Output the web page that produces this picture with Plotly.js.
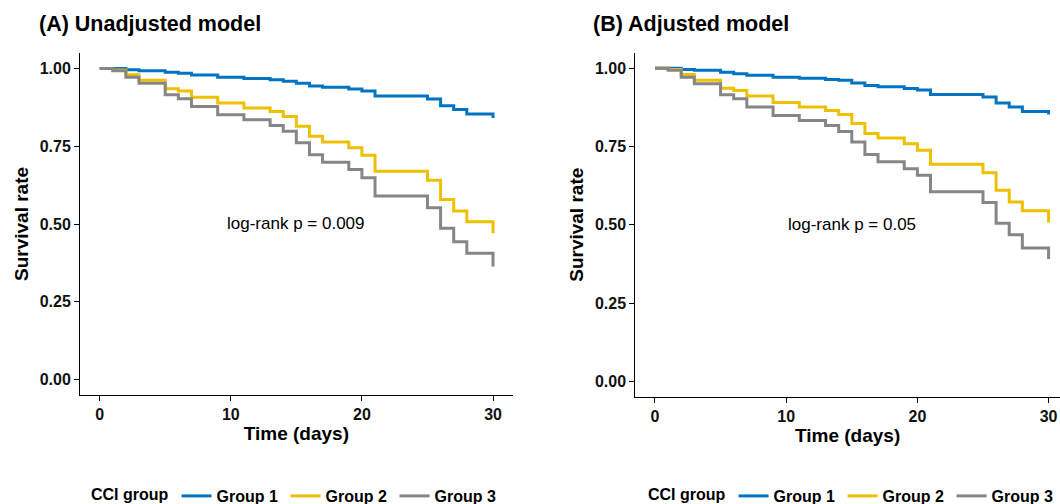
<!DOCTYPE html>
<html>
<head>
<meta charset="utf-8">
<script src="https://cdn.plot.ly/plotly-3.0.1.min.js"></script>
<style>html,body{margin:0;padding:0;background:#fff;}#chart{width:1060px;height:504px;}</style>
</head>
<body>
<div id="chart"></div>
<script>
// ---- data ----
const days = [0, 1, 2, 3, 5, 6, 7, 9, 11, 13, 14, 15, 16, 17, 19, 20, 21, 25, 26, 27, 28, 30];
const groupNames = ["Group 1", "Group 2", "Group 3"];
const groupColors = ["#0073C2", "#EFC000", "#868686"];

// (A) Unadjusted model
const unadjG1 = [1.000, 1.000, 0.996, 0.993, 0.988, 0.985, 0.979, 0.972, 0.968, 0.964, 0.959, 0.953, 0.944, 0.940, 0.934, 0.928, 0.912, 0.902, 0.880, 0.868, 0.854, 0.841];
const unadjG2 = [1.000, 0.995, 0.980, 0.962, 0.935, 0.928, 0.908, 0.889, 0.873, 0.862, 0.846, 0.814, 0.782, 0.764, 0.745, 0.721, 0.670, 0.641, 0.579, 0.542, 0.507, 0.470];
const unadjG3 = [1.000, 0.993, 0.972, 0.953, 0.916, 0.903, 0.878, 0.851, 0.835, 0.817, 0.798, 0.761, 0.723, 0.699, 0.675, 0.649, 0.590, 0.552, 0.486, 0.443, 0.406, 0.363];

// (B) Adjusted model
const adjG1 = [1.000, 1.000, 0.996, 0.993, 0.987, 0.982, 0.977, 0.971, 0.968, 0.964, 0.961, 0.953, 0.945, 0.941, 0.935, 0.930, 0.916, 0.908, 0.889, 0.876, 0.862, 0.852];
const adjG2 = [1.000, 0.996, 0.980, 0.961, 0.936, 0.929, 0.911, 0.890, 0.876, 0.865, 0.852, 0.823, 0.791, 0.777, 0.759, 0.738, 0.693, 0.666, 0.610, 0.573, 0.545, 0.507];
const adjG3 = [1.000, 0.993, 0.971, 0.950, 0.915, 0.902, 0.876, 0.849, 0.833, 0.817, 0.798, 0.764, 0.724, 0.701, 0.679, 0.658, 0.605, 0.571, 0.505, 0.468, 0.426, 0.391];

const xTicks = [0, 10, 20, 30];
const yTicks = [0, 0.25, 0.5, 0.75, 1];
const panelTitles = ["(A) Unadjusted model", "(B) Adjusted model"];
const pTexts = ["log-rank p = 0.009", "log-rank p = 0.05"];
const legendTitle = "CCI group";
const xTitle = "Time (days)";
const yTitle = "Survival rate";

// ---- build traces ----
const panels = [
  {series: [unadjG1, unadjG2, unadjG3], xa: "x", ya: "y", legend: "legend"},
  {series: [adjG1, adjG2, adjG3], xa: "x2", ya: "y2", legend: "legend2"}
];
const traces = [];
panels.forEach(p => {
  p.series.forEach((vals, i) => {
    traces.push({
      type: "scatter", mode: "lines", x: days, y: vals,
      xaxis: p.xa, yaxis: p.ya, legend: p.legend,
      name: groupNames[i],
      line: {shape: "hv", color: groupColors[i], width: 3},
      hoverinfo: "skip"
    });
  });
});

const W = 1060, H = 504;
const tickFont = {family: "Liberation Sans, Arial, sans-serif", size: 16, color: "#111", weight: "bold"};
function xAxis(domain, range, anchor) {
  return {
    domain: domain, range: range, anchor: anchor,
    tickvals: xTicks, ticks: "outside", ticklen: 5, tickwidth: 1, tickcolor: "#000",
    showline: true, linecolor: "#000", linewidth: 1, showgrid: false, zeroline: false,
    tickfont: tickFont,
    title: {text: xTitle, font: {size: 19, weight: "bold", color: "#000"}, standoff: 4},
    fixedrange: true
  };
}
function yAxis(domain, anchor) {
  return {
    domain: domain, range: [-0.05, 1.05], anchor: anchor,
    tickvals: yTicks, tickformat: ".2f", ticks: "outside", ticklen: 5, tickwidth: 1, tickcolor: "#000",
    showline: true, linecolor: "#000", linewidth: 1, showgrid: false, zeroline: false,
    tickfont: tickFont,
    title: {text: yTitle, font: {size: 19, weight: "bold", color: "#000"}, standoff: 6},
    fixedrange: true
  };
}
function legendCfg(xpx) {
  return {
    orientation: "h", x: xpx / W, xanchor: "left", y: 1 - 496 / H, yanchor: "middle",
    font: {family: "Liberation Sans, Arial, sans-serif", size: 16, weight: "bold", color: "#000"},
    title: {text: legendTitle, side: "left", font: {size: 16, weight: "bold", color: "#000"}},
    entrywidth: 64, entrywidthmode: "pixels",
    bgcolor: "rgba(0,0,0,0)", borderwidth: 0, traceorder: "normal", itemclick: false, itemdoubleclick: false
  };
}

const layout = {
  width: W, height: H,
  margin: {l: 0, r: 0, t: 0, b: 0, pad: 0, autoexpand: false},
  paper_bgcolor: "#fff", plot_bgcolor: "#fff",
  font: {family: "Liberation Sans, Arial, sans-serif", color: "#000"},
  showlegend: true,
  xaxis: xAxis([80 / W, 512.7 / W], [-1.5, 31.5], "y"),
  yaxis: yAxis([1 - 395 / H, 1 - 53 / H], "x"),
  xaxis2: xAxis([635.3 / W, 1], [-1.5, 30.87], "y2"),
  yaxis2: yAxis([1 - 397 / H, 1 - 52.5 / H], "x2"),
  legend: legendCfg(89),
  legend2: legendCfg(646),
  annotations: [
    {text: panelTitles[0], xref: "paper", yref: "paper", x: 37 / W, y: 1 - 24 / H, xanchor: "left", yanchor: "middle",
     showarrow: false, font: {size: 21.5, weight: "bold", color: "#000"}},
    {text: panelTitles[1], xref: "paper", yref: "paper", x: 591 / W, y: 1 - 24 / H, xanchor: "left", yanchor: "middle",
     showarrow: false, font: {size: 21.5, weight: "bold", color: "#000"}},
    {text: pTexts[0], xref: "x", yref: "y", x: 15, y: 0.5, showarrow: false, font: {size: 17, color: "#000"}},
    {text: pTexts[1], xref: "x2", yref: "y2", x: 15, y: 0.5, showarrow: false, font: {size: 17, color: "#000"}}
  ]
};

Plotly.newPlot("chart", traces, layout, {displayModeBar: false, staticPlot: true});
</script>
</body>
</html>
